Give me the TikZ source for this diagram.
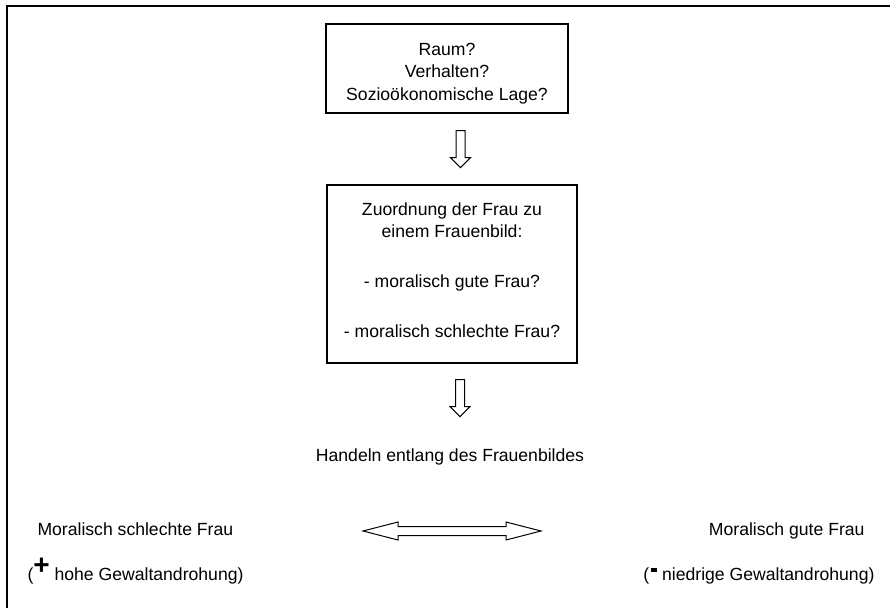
\documentclass[tikz,border=0pt]{standalone}
\usepackage{fontspec}
\setmainfont{Liberation Sans}
\usetikzlibrary{positioning}
\tikzset{
    every node/.style={
        font=\fontsize{17.6}{22}\selectfont
    },
    qbox/.style={
        rectangle,
        draw=black,
        line width=1.2pt,
        inner sep=0pt
    },
    boxtext/.style={
        align=center,
        inner sep=0pt
    },
    hollow/.style={
        draw=black,
        line width=1pt,
        line join=miter
    },
    blockdown/.pic={
        \draw [hollow] (-4.5,0) -- (-4.5,27) -- (-10,27) -- (0,37) -- (10,27) -- (4.5,27) -- (4.5,0) -- cycle;
    },
    blockboth/.pic={
        \draw [hollow] (-89,0) -- (-54,-9) -- (-54,-4.5) -- (54,-4.5) -- (54,-9) -- (89,0)
            -- (54,9) -- (54,4.5) -- (-54,4.5) -- (-54,9) -- cycle;
    }
}

\begin{document}
\begin{tikzpicture}[x=1pt,y=-1pt]
    \useasboundingbox (0,0) rectangle (890,607);
    \draw [line width=1.8pt] (7,6) rectangle (900,620);
    % oben: Fragen
    \node (frage) [qbox, minimum width=242pt, minimum height=89pt] at (447,68.5) {};
    \node (fragetext) [boxtext, anchor=base] at (447,100) {Raum?\\Verhalten?\\Sozioökonomische Lage?};
    \coordinate [below=17pt of frage, xshift=13.5pt] (p1);
    \pic (pfeil1) at (p1) {blockdown};
    % Zuordnung
    \node (zuordnung) [qbox, minimum width=250pt, minimum height=178pt] at (452,274) {};
    \node (zuordnungtext) [boxtext, anchor=base] at (452,337.3) {Zuordnung der Frau zu\\einem Frauenbild:\\[28pt]- moralisch gute Frau?\\[28pt]- moralisch schlechte Frau?};
    \coordinate [below=16pt of zuordnung, xshift=8pt] (p2);
    \pic (pfeil2) at (p2) {blockdown};
    \node (handeln) [anchor=base] at (450,461.7) {Handeln entlang des Frauenbildes};
    % unten
    \coordinate (mitte) at (452,531);
    \pic (wechsel) at (mitte) {blockboth};
    \node (schlecht) [anchor=base west] at (34,535) {Moralisch schlechte Frau};
    \node (schlechtgewalt) [anchor=base west] at (24,580) {(\raisebox{6pt}{\fontsize{28}{28}\selectfont\bfseries +} hohe Gewaltandrohung)};
    \node (gut) [anchor=base east] at (868,535) {Moralisch gute Frau};
    \node (gutgewalt) [anchor=base east] at (878,580) {(\hspace{2pt}\rule[8.5pt]{6pt}{3.5pt} niedrige Gewaltandrohung)};
\end{tikzpicture}
\end{document}
